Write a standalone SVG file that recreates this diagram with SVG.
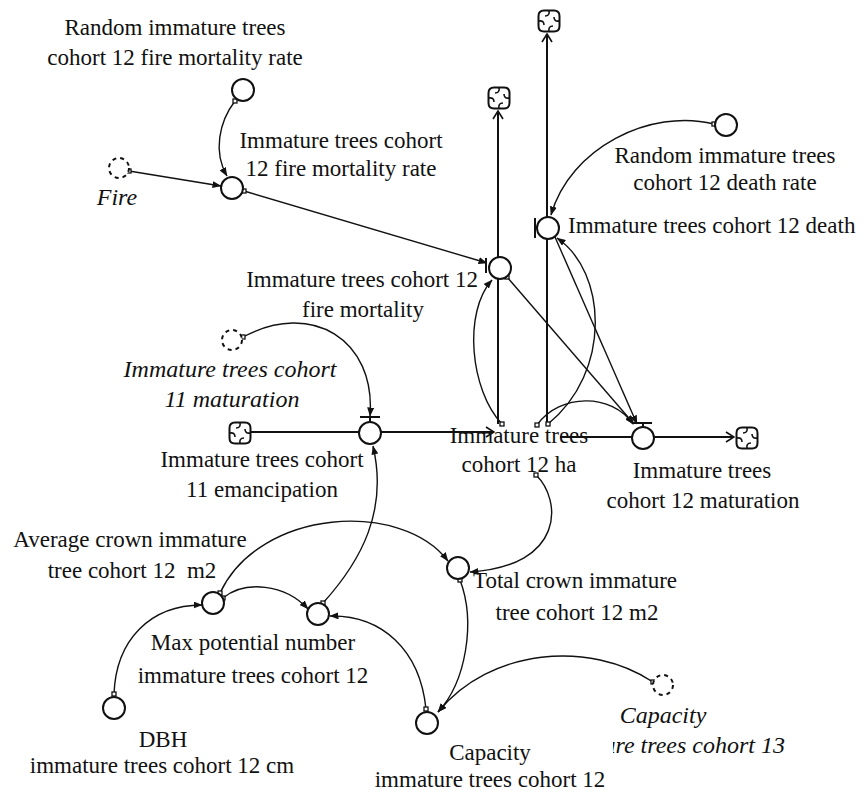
<svg xmlns="http://www.w3.org/2000/svg" width="864" height="800" viewBox="0 0 864 800">
<style>
  text { font-family: "Liberation Serif", "Times New Roman", serif; font-size: 23px; fill: #111; white-space: pre; }
  .it { font-style: italic; font-size: 24px; }
  .mid { text-anchor: middle; }
  .end { text-anchor: end; }
  .conv { fill: #fff; stroke: #111; stroke-width: 2; }
  .ghost { fill: #fff; stroke: #111; stroke-width: 2; stroke-dasharray: 4 4; }
  .link { fill: none; stroke: #111; stroke-width: 1.4; }
  .pipe { fill: none; stroke: #111; stroke-width: 2; }
  .sq { fill: #fff; stroke: #111; stroke-width: 1.3; }
  .tick { fill: none; stroke: #111; stroke-width: 2; }
</style>
<defs>
  <marker id="arr" viewBox="0 0 9 7" refX="8.5" refY="3.5" markerWidth="9" markerHeight="7" markerUnits="userSpaceOnUse" orient="auto">
    <path d="M0,0 L9,3.5 L0,7 Z" fill="#111"/>
  </marker>
  <marker id="open" viewBox="0 0 10 12" refX="9" refY="6" markerWidth="10" markerHeight="12" markerUnits="userSpaceOnUse" orient="auto">
    <path d="M1,1 L9,6 L1,11" fill="none" stroke="#111" stroke-width="1.6"/>
  </marker>
  <symbol id="cloud" viewBox="-12 -12 24 24" width="24" height="24" overflow="visible">
    <path d="M-5,-10.5 H5 Q10.5,-10.5 10.5,-5 V5 Q10.5,10.5 5,10.5 H-5 Q-10.5,10.5 -10.5,5 V-5 Q-10.5,-10.5 -5,-10.5 Z" fill="#fff" stroke="#111" stroke-width="2"/>
    <path d="M0,-10.5 Q1,-5 -4,-5 M10.5,0 Q5,1 5,-4 M0,10.5 Q-1,5 4,5 M-10.5,0 Q-5,-1 -5,4" fill="none" stroke="#111" stroke-width="1.6"/>
  </symbol>
  <clipPath id="clipCap13"><rect x="613" y="730" width="200" height="40"/></clipPath>
</defs>

<g id="connectors">
  <!-- flows -->
  <path class="pipe" d="M251,432 L494,432" marker-end="url(#open)"/>
  <path class="pipe" d="M498,424 L498,111" marker-end="url(#open)"/>
  <path class="pipe" d="M547,424 L547,34" marker-end="url(#open)"/>
  <path class="pipe" d="M560,437 L734,437" marker-end="url(#open)"/>
  <!-- links -->
  <path class="link" d="M235,101 C219,122 213,152 227,176" marker-end="url(#arr)"/>
  <path class="link" d="M129,171 L221,186" marker-end="url(#arr)"/>
  <path class="link" d="M244,191 L487,263" marker-end="url(#arr)"/>
  <path class="link" d="M714,124 C650,108 570,148 551,215" marker-end="url(#arr)"/>
  <path class="link" d="M502,424 C470,390 463,312 492,280" marker-end="url(#arr)"/>
  <path class="link" d="M548,424 C612,372 607,272 557,238" marker-end="url(#arr)"/>
  <path class="link" d="M507,277 L634,424" marker-end="url(#arr)"/>
  <path class="link" d="M555,237 L637,424" marker-end="url(#arr)"/>
  <path class="link" d="M537,425 C560,393 612,393 633,424" marker-end="url(#arr)"/>
  <path class="link" d="M536,475 C562,500 565,566 470,572" marker-end="url(#arr)"/>
  <path class="link" d="M220,593 C260,508 402,500 448,561" marker-end="url(#arr)"/>
  <path class="link" d="M223,598 C245,580 285,584 308,609" marker-end="url(#arr)"/>
  <path class="link" d="M114,694 C116,640 150,605 202,605" marker-end="url(#arr)"/>
  <path class="link" d="M323,603 C362,560 388,510 373,446" marker-end="url(#arr)"/>
  <path class="link" d="M426,709 C420,650 382,615 330,616" marker-end="url(#arr)"/>
  <path class="link" d="M460,580 C476,622 466,682 438,712" marker-end="url(#arr)"/>
  <path class="link" d="M653,682 C590,640 490,648 438,712" marker-end="url(#arr)"/>
  <path class="link" d="M243,337 C312,300 376,340 370,416" marker-end="url(#arr)"/>
  <!-- link origin squares -->
  <rect class="sq" x="233" y="99" width="4" height="4"/>
  <rect class="sq" x="127" y="169" width="4" height="4"/>
  <rect class="sq" x="242" y="189" width="4" height="4"/>
  <rect class="sq" x="712" y="122" width="4" height="4"/>
  <rect class="sq" x="505" y="275" width="4" height="4"/>
  <rect class="sq" x="500" y="422" width="4" height="4"/>
  <rect class="sq" x="535" y="423" width="4" height="4"/>
  <rect class="sq" x="546" y="422" width="4" height="4"/>
  <rect class="sq" x="534" y="473" width="4" height="4"/>
  <rect class="sq" x="218" y="591" width="4" height="4"/>
  <rect class="sq" x="221" y="596" width="4" height="4"/>
  <rect class="sq" x="112" y="692" width="4" height="4"/>
  <rect class="sq" x="321" y="601" width="4" height="4"/>
  <rect class="sq" x="424" y="707" width="4" height="4"/>
  <rect class="sq" x="458" y="578" width="4" height="4"/>
  <rect class="sq" x="651" y="680" width="4" height="4"/>
  <rect class="sq" x="241" y="335" width="4" height="4"/>
</g>

<g id="cloud-emancipation-source"><use href="#cloud" x="228" y="421"/></g>
<g id="cloud-fire-sink"><use href="#cloud" x="487" y="86"/></g>
<g id="cloud-death-sink"><use href="#cloud" x="537" y="9"/></g>
<g id="cloud-maturation-sink"><use href="#cloud" x="735" y="426"/></g>

<g id="random-fire-rate">
  <circle class="conv" cx="243" cy="90" r="11"/>
  <text class="mid" x="175" y="35">Random immature trees</text>
  <text class="mid" x="175" y="65">cohort 12 fire mortality rate</text>
</g>

<g id="fire-rate">
  <circle class="conv" cx="232" cy="188" r="11"/>
  <text class="mid" x="341" y="148">Immature trees cohort</text>
  <text class="mid" x="341" y="176">12 fire mortality rate</text>
</g>

<g id="fire">
  <circle class="ghost" cx="119" cy="168" r="10"/>
  <text class="it mid" x="117" y="205">Fire</text>
</g>

<g id="random-death-rate">
  <circle class="conv" cx="726" cy="125" r="11"/>
  <text class="mid" x="725" y="163">Random immature trees</text>
  <text class="mid" x="725" y="190">cohort 12 death rate</text>
</g>

<g id="death">
  <circle class="conv" cx="548" cy="228" r="11"/>
  <path class="tick" d="M535,218 V238 M535,228 H537"/>
  <text x="568" y="233">Immature trees cohort 12 death</text>
</g>

<g id="fire-mortality">
  <circle class="conv" cx="500" cy="268" r="11"/>
  <path class="tick" d="M486,258 V273"/>
  <text class="end" x="478" y="287">Immature trees cohort 12</text>
  <text class="mid" x="363" y="317">fire mortality</text>
</g>

<g id="maturation-11">
  <circle class="ghost" cx="232" cy="340" r="10"/>
  <text class="it mid" x="230" y="377">Immature trees cohort</text>
  <text class="it mid" x="232" y="407">11 maturation</text>
</g>

<g id="emancipation">
  <circle class="conv" cx="370" cy="433" r="11"/>
  <path class="tick" d="M360,417 H380 M370,417 V422"/>
  <text class="mid" x="262" y="467">Immature trees cohort</text>
  <text class="mid" x="262" y="497">11 emancipation</text>
</g>

<g id="stock-ha">
  <text class="mid" x="519" y="443">Immature trees</text>
  <text class="mid" x="519" y="472">cohort 12 ha</text>
</g>

<g id="maturation-12">
  <circle class="conv" cx="643" cy="438" r="11"/>
  <path class="tick" d="M632,423 H652 M643,423 V427"/>
  <text class="mid" x="702" y="478">Immature trees</text>
  <text class="mid" x="703" y="508">cohort 12 maturation</text>
</g>

<g id="avg-crown">
  <circle class="conv" cx="213" cy="603" r="11"/>
  <text class="mid" x="130" y="547">Average crown immature</text>
  <text class="mid" x="132" y="578">tree cohort 12  m2</text>
</g>

<g id="total-crown">
  <circle class="conv" cx="458" cy="568" r="11"/>
  <text class="mid" x="575" y="588">Total crown immature</text>
  <text class="mid" x="577" y="620">tree cohort 12 m2</text>
</g>

<g id="max-potential">
  <circle class="conv" cx="318" cy="614" r="11"/>
  <text class="mid" x="253" y="650">Max potential number</text>
  <text class="mid" x="253" y="683">immature trees cohort 12</text>
</g>

<g id="dbh">
  <circle class="conv" cx="114" cy="708" r="11"/>
  <text class="mid" x="163" y="747">DBH</text>
  <text class="mid" x="162" y="773">immature trees cohort 12 cm</text>
</g>

<g id="capacity-12">
  <circle class="conv" cx="427" cy="723" r="11"/>
  <text class="mid" x="490" y="760">Capacity</text>
  <text class="mid" x="490" y="787">immature trees cohort 12</text>
</g>

<g id="capacity-13">
  <circle class="ghost" cx="663" cy="685" r="10"/>
  <text class="it mid" x="663" y="723">Capacity</text>
  <text class="it end" x="785" y="753" clip-path="url(#clipCap13)">ure trees cohort 13</text>
</g>
</svg>
